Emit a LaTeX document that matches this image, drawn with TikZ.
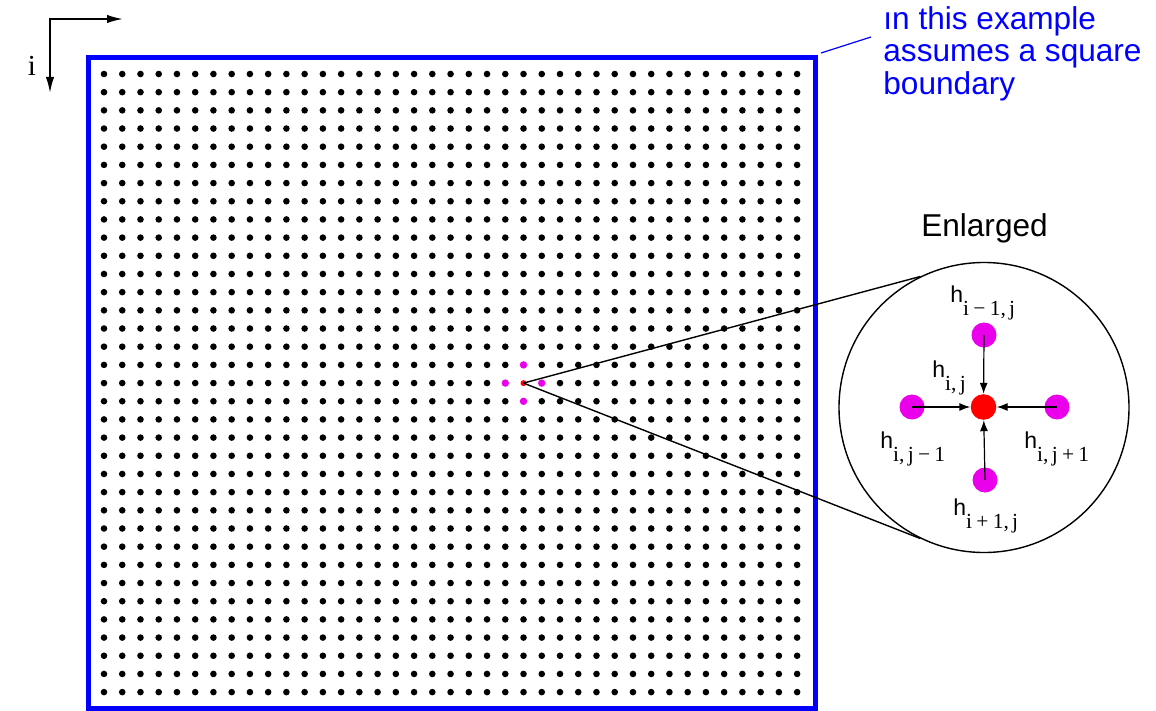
\documentclass[tikz,border=0pt]{standalone}
\usepackage{fontspec}
\setmainfont{Liberation Serif}
\setsansfont{Liberation Sans}
\usetikzlibrary{arrows.meta,calc}
\definecolor{nbr}{RGB}{235,0,235}
\definecolor{ctr}{RGB}{255,0,0}
\definecolor{edge}{RGB}{0,0,255}
\newcommand\hsub[1]{{\sffamily\fontsize{11.5}{12}\selectfont h}\raisebox{-6.5pt}{#1}}
\newcommand\ms{\hspace{0.2em}}
\begin{document}
\begin{tikzpicture}[x=0.5pt,y=-0.5pt,
  axis/.style={line width=0.9pt,{Latex[length=8pt,width=4.2pt]}-{Latex[length=8pt,width=4.2pt]}},
  boundary/.style={draw=edge,line width=2.4pt},
  griddot/.style={fill=black},
  smallnbr/.style={circle,fill=nbr,inner sep=0pt,minimum size=3.7pt},
  smallctr/.style={circle,fill=ctr,inner sep=0pt,minimum size=3pt},
  zoomline/.style={line width=0.7pt},
  lens/.style={draw,circle,line width=0.7pt,inner sep=0pt,minimum size=145pt},
  bignbr/.style={circle,fill=nbr,inner sep=0pt,minimum size=12.5pt},
  bigctr/.style={circle,fill=ctr,inner sep=0pt,minimum size=12.8pt},
  inarrow/.style={line width=0.6pt,-{Latex[length=5.5pt,width=4pt]}},
  hlabel/.style={anchor=base west,inner sep=0pt,font=\fontsize{10.75}{12}\selectfont},
  note/.style={anchor=north west,inner sep=0pt,align=left,text=edge,
    font=\sffamily\fontsize{15.8}{16.25}\selectfont},
  leader/.style={draw=edge,line width=0.6pt}
]
\useasboundingbox (0,0) rectangle (1156,711);

% index directions
\coordinate (origin) at (50,19);
\coordinate (jend) at (123,19);
\coordinate (iend) at (50,93);
\draw[axis] (jend) -- (origin) -- (iend);
\node[anchor=base,inner sep=0pt,font=\fontsize{14.5}{14.5}\selectfont] (ilab) at (32,75.5) {i};

% square domain boundary
\draw[boundary] (88.3,57.5) rectangle (815.2,708.5);

% grid points (the centre point and its four neighbours are drawn separately)
\foreach \c in {0,...,38}{
  \foreach \r in {0,...,34}{
    \pgfmathtruncatemacro\dd{abs(\c-23)+abs(\r-17)}
    \ifnum\dd>1
      \fill[griddot] ({104+18.24*\c},{74+18.18*\r}) circle (3.3);
    \fi
  }
}
\node[smallnbr] (sN) at (523.5,364.9) {};
\node[smallnbr] (sS) at (523.5,401.3) {};
\node[smallnbr] (sW) at (505.3,383.1) {};
\node[smallnbr] (sE) at (541.7,383.1) {};
\node[smallctr] (src) at (523.5,383.1) {};

% enlarged view
\node[lens] (lens) at (984,407.5) {};
\draw[zoomline] (src.center) -- (lens.116);
\draw[zoomline] (src.center) -- (lens.244);
\node[anchor=base,inner sep=0pt,font=\sffamily\fontsize{15.8}{15.8}\selectfont] (enl) at (984.5,237) {Enlarged};

\node[bigctr] (hub) at (983.5,407) {};
\node[bignbr] (up) at (984,335) {};
\node[bignbr] (left) at (912,407) {};
\node[bignbr] (right) at (1057,407) {};
\node[bignbr] (down) at (985,480) {};
\draw[inarrow] (up.center) -- (hub);
\draw[inarrow] (left.center) -- (hub);
\draw[inarrow] (right.center) -- (hub);
\draw[inarrow] (down.center) -- (hub);

\node[hlabel] (lup) at (950,302) {\hsub{i\ms−\ms1,\hspace{0.15em}j}};
\node[hlabel] (lhub) at (932,377) {\hsub{i,\hspace{0.15em}j}};
\node[hlabel] (lleft) at (880,448) {\hsub{i,\hspace{0.15em}j\ms−\ms1}};
\node[hlabel] (lright) at (1024,448) {\hsub{i,\hspace{0.15em}j\ms+\ms1}};
\node[hlabel] (ldown) at (953,515) {\hsub{i\ms+\ms1,\hspace{0.15em}j}};

% note on the boundary
\node[note] (note) at (883,6) {ın this example\\assumes a square\\boundary};
\coordinate (leadA) at (821,53);
\coordinate (leadB) at (871,37);
\draw[leader] (leadA) -- (leadB);
\end{tikzpicture}
\end{document}
